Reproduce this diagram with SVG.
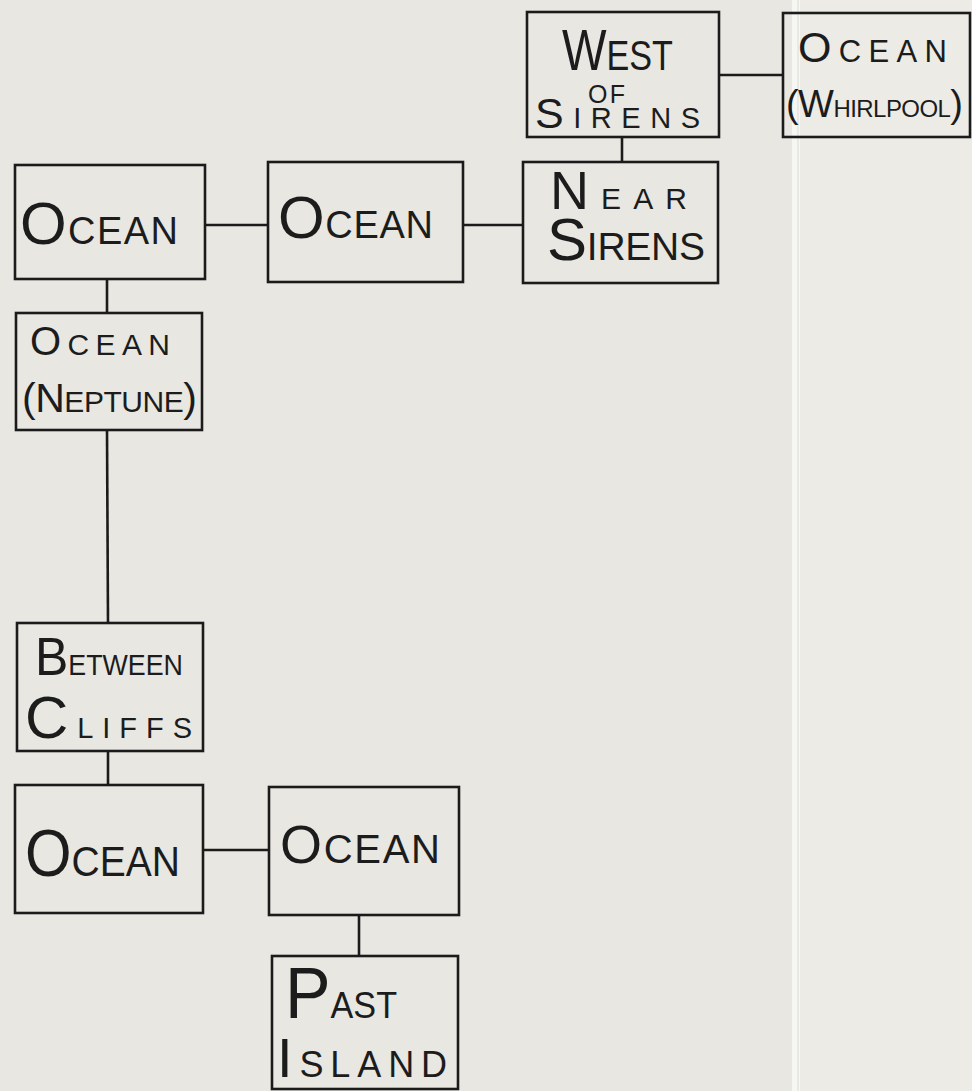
<svg xmlns="http://www.w3.org/2000/svg" width="972" height="1091" viewBox="0 0 972 1091">
<style>
.box{fill:none;stroke:#1b1b1b;stroke-width:2.6}
.con line{stroke:#1b1b1b;stroke-width:2.6}
text{font-family:"Liberation Sans","DejaVu Sans",sans-serif;fill:#1c1c1c}
</style>
<rect x="0" y="0" width="972" height="1091" fill="#e8e7e2"/>
<rect x="798" y="0" width="174" height="1091" fill="#ecebe6"/>
<rect x="792" y="0" width="8" height="1091" fill="#f6f6f2"/>
<line x1="798" y1="0" x2="798" y2="1091" stroke="#dcdbd5" stroke-width="1"/>
<g class="con" id="connectors">
<line x1="719" y1="75" x2="783" y2="75"/>
<line x1="622" y1="137" x2="622" y2="162"/>
<line x1="463" y1="225" x2="523" y2="225"/>
<line x1="205" y1="225" x2="268" y2="225"/>
<line x1="107" y1="279" x2="107" y2="313"/>
<line x1="107" y1="430" x2="108" y2="623"/>
<line x1="108" y1="751" x2="108" y2="785"/>
<line x1="203" y1="850" x2="269" y2="850"/>
<line x1="359" y1="915" x2="359" y2="956"/>
</g>
<g id="west-of-sirens">
<rect class="box" x="527" y="12" width="192" height="125"/>
<text x="562" y="70" textLength="111" lengthAdjust="spacingAndGlyphs"><tspan font-size="58">W</tspan><tspan font-size="42">EST</tspan></text>
<text x="588" y="103" font-size="25" textLength="37" lengthAdjust="spacing">OF</text>
<text x="535" y="128" textLength="165" lengthAdjust="spacing"><tspan font-size="43">S</tspan><tspan font-size="29">IRENS</tspan></text>
</g>
<g id="ocean-whirlpool">
<rect class="box" x="783" y="13" width="187" height="124"/>
<text x="798" y="62" textLength="149" lengthAdjust="spacing"><tspan font-size="43">O</tspan><tspan font-size="31">CEAN</tspan></text>
<text x="786" y="117" textLength="177" lengthAdjust="spacing"><tspan font-size="38">(W</tspan><tspan font-size="24">HIRLPOOL</tspan><tspan font-size="38">)</tspan></text>
</g>
<g id="near-sirens">
<rect class="box" x="523" y="162" width="195" height="121"/>
<text x="550" y="209" textLength="137" lengthAdjust="spacing"><tspan font-size="54">N</tspan><tspan font-size="30">EAR</tspan></text>
<text x="547" y="260" textLength="158" lengthAdjust="spacing"><tspan font-size="60">S</tspan><tspan font-size="39">IRENS</tspan></text>
</g>
<g id="ocean-1">
<rect class="box" x="15" y="165" width="190" height="114"/>
<text x="20" y="244" textLength="158" lengthAdjust="spacing"><tspan font-size="60">O</tspan><tspan font-size="38">CEAN</tspan></text>
</g>
<g id="ocean-2">
<rect class="box" x="268" y="162" width="195" height="120"/>
<text x="278" y="238" textLength="155" lengthAdjust="spacing"><tspan font-size="60">O</tspan><tspan font-size="38">CEAN</tspan></text>
</g>
<g id="ocean-neptune">
<rect class="box" x="16" y="313" width="186" height="117"/>
<text x="30" y="355" textLength="140" lengthAdjust="spacing"><tspan font-size="40">O</tspan><tspan font-size="30">CEAN</tspan></text>
<text x="22" y="412" textLength="175" lengthAdjust="spacing"><tspan font-size="41">(N</tspan><tspan font-size="30">EPTUNE</tspan><tspan font-size="41">)</tspan></text>
</g>
<g id="between-cliffs">
<rect class="box" x="17" y="623" width="186" height="128"/>
<text x="35" y="675" textLength="148" lengthAdjust="spacingAndGlyphs"><tspan font-size="54">B</tspan><tspan font-size="29">ETWEEN</tspan></text>
<text x="25" y="738" textLength="167" lengthAdjust="spacing"><tspan font-size="60">C</tspan><tspan font-size="29">LIFFS</tspan></text>
</g>
<g id="ocean-3">
<rect class="box" x="15" y="785" width="188" height="128"/>
<text x="25" y="876" textLength="155" lengthAdjust="spacingAndGlyphs"><tspan font-size="66">O</tspan><tspan font-size="43">CEAN</tspan></text>
</g>
<g id="ocean-4">
<rect class="box" x="269" y="787" width="190" height="128"/>
<text x="280" y="863" textLength="160" lengthAdjust="spacing"><tspan font-size="54">O</tspan><tspan font-size="40">CEAN</tspan></text>
</g>
<g id="past-island">
<rect class="box" x="272" y="956" width="186" height="133"/>
<text x="285" y="1018" textLength="112" lengthAdjust="spacingAndGlyphs"><tspan font-size="72">P</tspan><tspan font-size="36">AST</tspan></text>
<text x="277" y="1077" textLength="170" lengthAdjust="spacing"><tspan font-size="56">I</tspan><tspan font-size="36">SLAND</tspan></text>
</g>
</svg>
